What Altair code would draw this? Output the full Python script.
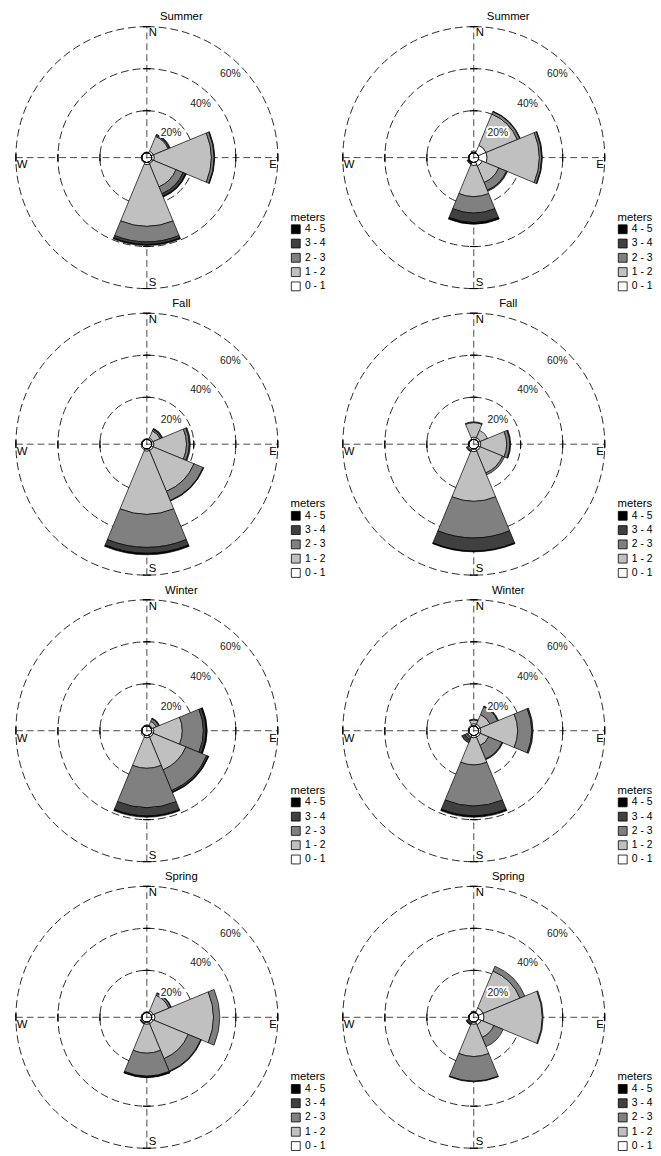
import math
import altair as alt
import pandas as pd

FONT = "Liberation Sans"

DIRECTIONS = ["N", "NE", "E", "SE", "S", "SW", "W", "NW"]
DIR_ANGLE = [0, 45, 90, 135, 180, 225, 270, 315]
SPEED_BINS = ["0 - 1", "1 - 2", "2 - 3", "3 - 4", "4 - 5"]
LEGEND_ORDER = ["4 - 5", "3 - 4", "2 - 3", "1 - 2", "0 - 1"]
LEGEND_COLORS = ["#000000", "#404040", "#808080", "#c0c0c0", "#ffffff"]
RINGS = [20, 40, 60]
RING_LABELS = ["20%", "40%", "60%"]
CARDINALS = ["N", "E", "S", "W"]
CARDINAL_ANGLE = [0, 90, 180, 270]
SEASONS = ["Summer", "Summer", "Fall", "Fall", "Winter", "Winter", "Spring", "Spring"]

# frequency (%) of each speed class, per direction (N, NE, E, SE, S, SW, W, NW)
summer_a = {
    "0 - 1": [0.3, 1.0, 1.2, 0.8, 1.0, 0.4, 0.3, 0.3],
    "1 - 2": [0.0, 7.6, 27.1, 11.9, 29.3, 0.0, 0.0, 0.0],
    "2 - 3": [0.0, 0.6, 1.3, 3.6, 7.5, 0.0, 0.0, 0.0],
    "3 - 4": [0.0, 0.5, 0.3, 1.3, 1.2, 0.0, 0.0, 0.0],
    "4 - 5": [0.0, 0.0, 0.0, 0.4, 0.5, 0.0, 0.0, 0.0],
}
summer_b = {
    "0 - 1": [0.3, 4.0, 4.0, 2.0, 1.4, 0.2, 0.2, 0.2],
    "1 - 2": [0.6, 16.1, 24.8, 8.5, 14.8, 0.2, 0.0, 0.0],
    "2 - 3": [0.0, 1.3, 1.1, 4.0, 7.8, 0.3, 0.0, 0.0],
    "3 - 4": [0.0, 0.2, 0.3, 0.5, 4.5, 0.4, 0.0, 0.0],
    "4 - 5": [0.0, 0.0, 0.0, 0.0, 0.8, 0.0, 0.0, 0.0],
}
fall_a = {
    "0 - 1": [0.3, 0.8, 1.0, 1.0, 1.0, 0.6, 0.3, 0.3],
    "1 - 2": [0.0, 3.7, 15.5, 21.0, 30.0, 0.0, 0.0, 0.0],
    "2 - 3": [0.0, 0.8, 1.3, 4.7, 15.8, 0.0, 0.0, 0.0],
    "3 - 4": [0.0, 0.5, 0.5, 0.3, 2.8, 0.0, 0.0, 0.0],
    "4 - 5": [0.0, 0.0, 0.0, 0.0, 0.7, 0.0, 0.0, 0.0],
}
fall_b = {
    "0 - 1": [1.0, 1.0, 1.0, 1.0, 1.2, 0.8, 0.3, 0.3],
    "1 - 2": [6.9, 3.8, 12.3, 11.5, 23.6, 0.4, 0.0, 0.0],
    "2 - 3": [0.4, 0.0, 1.5, 1.0, 17.5, 0.3, 0.0, 0.0],
    "3 - 4": [0.0, 0.0, 0.4, 0.0, 6.2, 0.0, 0.0, 0.0],
    "4 - 5": [0.0, 0.0, 0.0, 0.0, 0.4, 0.0, 0.0, 0.0],
}
winter_a = {
    "0 - 1": [0.5, 0.5, 1.0, 1.0, 1.0, 0.7, 0.3, 0.4],
    "1 - 2": [0.0, 2.0, 13.5, 16.8, 14.5, 0.0, 0.0, 0.0],
    "2 - 3": [0.0, 1.3, 10.0, 10.7, 18.7, 0.0, 0.0, 0.0],
    "3 - 4": [0.0, 0.4, 1.3, 0.8, 4.0, 0.0, 0.0, 0.0],
    "4 - 5": [0.0, 0.0, 0.5, 0.3, 0.6, 0.0, 0.0, 0.0],
}
winter_b = {
    "0 - 1": [1.0, 1.0, 1.0, 1.0, 1.0, 0.8, 0.3, 0.5],
    "1 - 2": [1.8, 5.0, 17.5, 4.3, 12.9, 0.5, 0.0, 0.0],
    "2 - 3": [0.4, 4.0, 6.7, 6.9, 19.5, 0.9, 0.0, 0.0],
    "3 - 4": [0.0, 0.4, 0.6, 0.4, 4.7, 1.7, 0.0, 0.0],
    "4 - 5": [0.0, 0.0, 0.0, 0.0, 0.7, 0.0, 0.0, 0.0],
}
spring_a = {
    "0 - 1": [0.3, 1.0, 1.5, 1.0, 1.0, 0.6, 0.3, 0.3],
    "1 - 2": [0.0, 8.0, 27.8, 18.0, 13.7, 0.3, 0.0, 0.0],
    "2 - 3": [0.0, 1.0, 3.0, 6.5, 10.9, 0.2, 0.0, 0.0],
    "3 - 4": [0.0, 0.3, 0.0, 0.3, 0.4, 0.0, 0.0, 0.0],
    "4 - 5": [0.0, 0.0, 0.0, 0.0, 0.3, 0.0, 0.0, 0.0],
}
spring_b = {
    "0 - 1": [0.3, 2.5, 2.5, 1.5, 1.0, 0.5, 0.2, 0.2],
    "1 - 2": [0.3, 19.0, 27.7, 6.5, 15.3, 0.4, 0.0, 0.0],
    "2 - 3": [0.0, 2.5, 0.4, 4.8, 11.7, 0.4, 0.0, 0.0],
    "3 - 4": [0.0, 0.0, 0.0, 0.0, 0.3, 0.3, 0.0, 0.0],
    "4 - 5": [0.0, 0.0, 0.0, 0.0, 0.0, 0.0, 0.0, 0.0],
}
PANELS = [summer_a, summer_b, fall_a, fall_b, winter_a, winter_b, spring_a, spring_b]

# ---------------- styling / geometry ----------------
SIZE = 266                 # plot area (diameter of 60% ring)
HALF_SECTOR = 360 / len(DIRECTIONS) / 2
TICK_HALF_DEG = [4.5, 2.4, 1.7]

theta_scale = alt.Scale(type="linear", domain=[0, 360], range=[0, 2 * math.pi], zero=False, nice=False)
radius_scale = alt.Scale(type="linear", domain=[0, 60], range=[5, SIZE / 2], zero=False, nice=False)
xy_scale = alt.Scale(type="linear", domain=[-60, 60], zero=False, nice=False)


def bands_frame(freq):
    rows = []
    for d, (name, ang) in enumerate(zip(DIRECTIONS, DIR_ANGLE)):
        cum = 0.0
        for b in SPEED_BINS:
            v = freq[b][d]
            if v > 0:
                rows.append(dict(direction=name, speed=b, inner=cum, outer=cum + v,
                                 t0=ang - HALF_SECTOR, t1=ang + HALF_SECTOR))
            cum += v
    return pd.DataFrame(rows)


rings_df = pd.DataFrame({"r": RINGS, "t0": 0, "t1": 360})
axes_df = pd.DataFrame({"x": [0, -60], "x2": [0, 60], "y": [-60, 0], "y2": [60, 0]})
tick_rows = []
for a in CARDINAL_ANGLE:
    for r, h in zip(RINGS, TICK_HALF_DEG):
        tick_rows.append(dict(r=r, t0=a - h, t1=a + h))
ticks_df = pd.DataFrame(tick_rows)
ring_lbl_df = pd.DataFrame({"r": RINGS, "label": RING_LABELS, "t": 45})
card_df = pd.DataFrame({"label": CARDINALS, "t": CARDINAL_ANGLE, "r": 60})
center_df = pd.DataFrame({"r": [0], "t0": [0], "t1": [360]})


def panel(title, freq):
    df = bands_frame(freq)
    th = lambda f: alt.Theta(f, scale=theta_scale)
    rd = lambda f: alt.Radius(f, scale=radius_scale)

    rings = alt.Chart(rings_df).mark_arc(filled=False, stroke="black", strokeWidth=0.85,
                                         strokeDash=[8, 4]).encode(
        theta=th("t0:Q"), theta2="t1", radius=rd("r:Q"))
    rules = alt.Chart(axes_df).mark_rule(stroke="#333333", strokeWidth=0.9, strokeDash=[7, 4]).encode(
        x=alt.X("x:Q", scale=xy_scale, axis=None), x2="x2",
        y=alt.Y("y:Q", scale=xy_scale, axis=None), y2="y2")
    ticks = alt.Chart(ticks_df).mark_arc(filled=False, stroke="black", strokeWidth=0.9).encode(
        theta=th("t0:Q"), theta2="t1", radius=rd("r:Q"), radius2="r")
    bands = alt.Chart(df).mark_arc(stroke="black", strokeWidth=0.7).encode(
        theta=th("t0:Q"), theta2="t1",
        radius=rd("outer:Q"), radius2="inner",
        color=alt.Color("speed:N",
                        scale=alt.Scale(domain=LEGEND_ORDER, range=LEGEND_COLORS),
                        legend=alt.Legend(title="meters", orient="none", legendX=279, legendY=188,
                                          symbolType="square", symbolSize=81,
                                          symbolStrokeColor="black", symbolStrokeWidth=0.8,
                                          labelFont=FONT, labelFontSize=10.5, labelColor="black",
                                          titleFont=FONT, titleFontSize=11.5, titleFontWeight="normal",
                                          titleColor="black", rowPadding=1.5, titlePadding=1,
                                          labelOffset=4)))
    center = alt.Chart(center_df).mark_arc(fill="white", stroke="black", strokeWidth=0.8).encode(
        theta=th("t0:Q"), theta2="t1", radius=rd("r:Q"))
    halo = alt.Chart(ring_lbl_df).mark_text(font=FONT, fontSize=10.5, radiusOffset=-13,
                                            color="white", stroke="white", strokeWidth=4,
                                            strokeJoin="round").encode(
        theta=th("t:Q"), radius=rd("r:Q"), text="label:N")
    pct = alt.Chart(ring_lbl_df).mark_text(font=FONT, fontSize=10.5, radiusOffset=-13,
                                           color="#222222").encode(
        theta=th("t:Q"), radius=rd("r:Q"), text="label:N")

    def card(lbl, align, baseline, dx, dy):
        return alt.Chart(card_df).transform_filter(alt.datum.label == lbl).mark_text(
            font=FONT, fontSize=11.5, color="black", align=align, baseline=baseline, dx=dx, dy=dy
        ).encode(theta=th("t:Q"), radius=rd("r:Q"), text="label:N")

    cards = [card("N", "left", "top", 2, 1), card("E", "right", "top", -1, 2),
             card("S", "left", "bottom", 2, -1), card("W", "left", "top", 1, 2)]

    return alt.layer(rings, rules, ticks, bands, center, halo, pct, *cards).properties(
        width=SIZE, height=SIZE,
        title=alt.TitleParams(text=title, font=FONT, fontSize=11.5, fontWeight="normal", color="black",
                              anchor="middle", frame="group", dx=35, offset=2))


rows = []
for i in range(0, 8, 2):
    row = alt.hconcat(panel(SEASONS[i], PANELS[i]), panel(SEASONS[i + 1], PANELS[i + 1]), spacing=15)
    row = row.resolve_scale(color="independent").resolve_legend(color="independent")
    rows.append(row)

chart = alt.vconcat(*rows, spacing=5).resolve_scale(color="independent").resolve_legend(
    color="independent").properties(
    padding={"left": 6, "top": -6, "right": 0, "bottom": 0}
).configure_view(strokeWidth=0)

chart.save("out.html", embed_options={"renderer": "svg", "actions": False})
